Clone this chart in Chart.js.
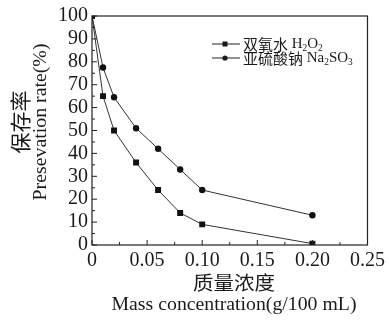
<!DOCTYPE html>
<html>
<head>
<meta charset="utf-8">
<script src="https://cdn.jsdelivr.net/npm/chart.js@4"></script>
<style>
  html, body { margin: 0; padding: 0; background: #fff; }
  #wrap { width: 389px; height: 322px; }
</style>
</head>
<body>
<div id="wrap"><canvas id="c"></canvas></div>
<script>
// ── データ ──
const concentration = [0, 0.01, 0.02, 0.04, 0.06, 0.08, 0.10, 0.20];
const h2o2   = [100, 65, 50, 36, 24, 14, 9, 0.6];
const na2so3 = [100, 77.5, 64.5, 51, 42, 33, 24, 13];
const xTickLabels = ["0", "0.05", "0.10", "0.15", "0.20", "0.25"];
const yTickLabels = ["0", "10", "20", "30", "40", "50", "60", "70", "80", "90", "100"];

const SERIF = '"Liberation Serif", "Times New Roman", serif';
const CJK   = '"Noto Sans CJK SC", sans-serif';

function pts(ys) { return concentration.map((x, i) => ({ x, y: ys[i] })); }

// 指定幅に合わせて中央揃えで描く
function drawFit(ctx, text, x, y, font, width) {
  ctx.save();
  ctx.font = font;
  ctx.textBaseline = "middle";
  const w = ctx.measureText(text).width;
  ctx.translate(x, y);
  ctx.scale(width / w, 1);
  ctx.fillText(text, -w / 2, 0);
  ctx.restore();
}

// 下付き文字付きのテキスト  parts: [text, sub?, cjk?]
function drawRich(ctx, parts, x, y, size) {
  let cx = x;
  parts.forEach(([t, sub, cjk]) => {
    ctx.font = (sub ? size * 0.62 : size) + "px " + (cjk ? CJK : SERIF);
    ctx.fillText(t, cx, sub ? y + size * 0.28 : y);
    cx += ctx.measureText(t).width;
  });
}

const framePlugin = {
  id: "frame",
  afterDraw(chart) {
    const { ctx, chartArea: a, scales } = chart;
    const xs = scales.x, ys = scales.y;
    ctx.save();
    ctx.strokeStyle = "#222";
    ctx.fillStyle = "#222";
    ctx.lineWidth = 1.2;
    ctx.strokeRect(a.left, a.top, a.right - a.left, a.bottom - a.top);

    // 内向きの目盛り
    ctx.lineWidth = 1;
    ctx.beginPath();
    for (let v = 0; v <= 100; v += 5) {
      const p = ys.getPixelForValue(v);
      const len = v % 10 === 0 ? 5 : 3;
      ctx.moveTo(a.left, p); ctx.lineTo(a.left + len, p);
    }
    for (let i = 0; i <= 10; i++) {
      const p = xs.getPixelForValue(i * 0.025);
      const len = i % 2 === 0 ? 5 : 3;
      ctx.moveTo(p, a.bottom); ctx.lineTo(p, a.bottom - len);
    }
    ctx.stroke();

    // 軸タイトル
    ctx.fillStyle = "#1a1a1a";
    drawFit(ctx, "质量浓度", 234, 283, "19px " + CJK, 82);
    drawFit(ctx, "Mass concentration(g/100 mL)", 234, 305, "18px " + SERIF, 245);

    ctx.save();
    ctx.translate(20, 122);
    ctx.rotate(-Math.PI / 2);
    drawFit(ctx, "保存率", 0, 0, "21px " + CJK, 63);
    ctx.restore();
    ctx.save();
    ctx.translate(41, 122);
    ctx.rotate(-Math.PI / 2);
    drawFit(ctx, "Presevation rate(%)", 0, 0, "18px " + SERIF, 157);
    ctx.restore();

    // 凡例
    ctx.strokeStyle = "#222";
    ctx.lineWidth = 1;
    [[44, "rect"], [58, "circle"]].forEach(([yy, shape]) => {
      ctx.beginPath();
      ctx.moveTo(212, yy); ctx.lineTo(240, yy); ctx.stroke();
      ctx.beginPath();
      if (shape === "rect") ctx.rect(222.5, yy - 2.5, 5, 5);
      else ctx.arc(225, yy, 2.6, 0, Math.PI * 2);
      ctx.fill();
    });
    ctx.textBaseline = "middle";
    drawRich(ctx, [["双氧水", false, true], [" H"], ["2", true], ["O"], ["2", true]], 243, 44, 15);
    drawRich(ctx, [["亚硫酸钠", false, true], [" Na"], ["2", true], ["SO"], ["3", true]], 243, 58, 15);
    ctx.restore();
  },
};

new Chart(document.getElementById("c"), {
  type: "scatter",
  plugins: [framePlugin],
  data: {
    datasets: [
      {
        label: "双氧水 H2O2",
        data: pts(h2o2),
        showLine: true,
        borderColor: "#333",
        borderWidth: 1,
        backgroundColor: "#111",
        pointStyle: "rect",
        pointRadius: 4.2,
        pointBorderWidth: 0,
      },
      {
        label: "亚硫酸钠 Na2SO3",
        data: pts(na2so3),
        showLine: true,
        borderColor: "#333",
        borderWidth: 1,
        backgroundColor: "#111",
        pointStyle: "circle",
        pointRadius: 3.2,
        pointBorderWidth: 0,
      },
    ],
  },
  options: {
    responsive: true,
    maintainAspectRatio: false,
    animation: false,
    layout: { padding: { top: 15, right: 13, left: 0, bottom: 0 } },
    plugins: { legend: { display: false }, tooltip: { enabled: false } },
    scales: {
      x: {
        type: "linear",
        min: 0, max: 0.25,
        afterFit: (s) => { s.height = 77; },
        afterBuildTicks: (s) => { s.ticks = xTickLabels.map((t, i) => ({ value: i * 0.05 })); },
        grid: { display: false, drawTicks: false },
        border: { display: false },
        ticks: {
          padding: 4,
          color: "#1a1a1a",
          font: { family: SERIF, size: 20 },
          maxRotation: 0,
          autoSkip: false,
          callback: (v, i) => xTickLabels[i],
        },
      },
      y: {
        min: 0, max: 100,
        afterFit: (s) => { s.width = 92; },
        afterBuildTicks: (s) => { s.ticks = yTickLabels.map((t, i) => ({ value: i * 10 })); },
        grid: { display: false, drawTicks: false },
        border: { display: false },
        ticks: {
          padding: 4,
          color: "#1a1a1a",
          font: { family: SERIF, size: 20 },
          autoSkip: false,
          callback: (v, i) => yTickLabels[i],
        },
      },
    },
  },
});
</script>
</body>
</html>
